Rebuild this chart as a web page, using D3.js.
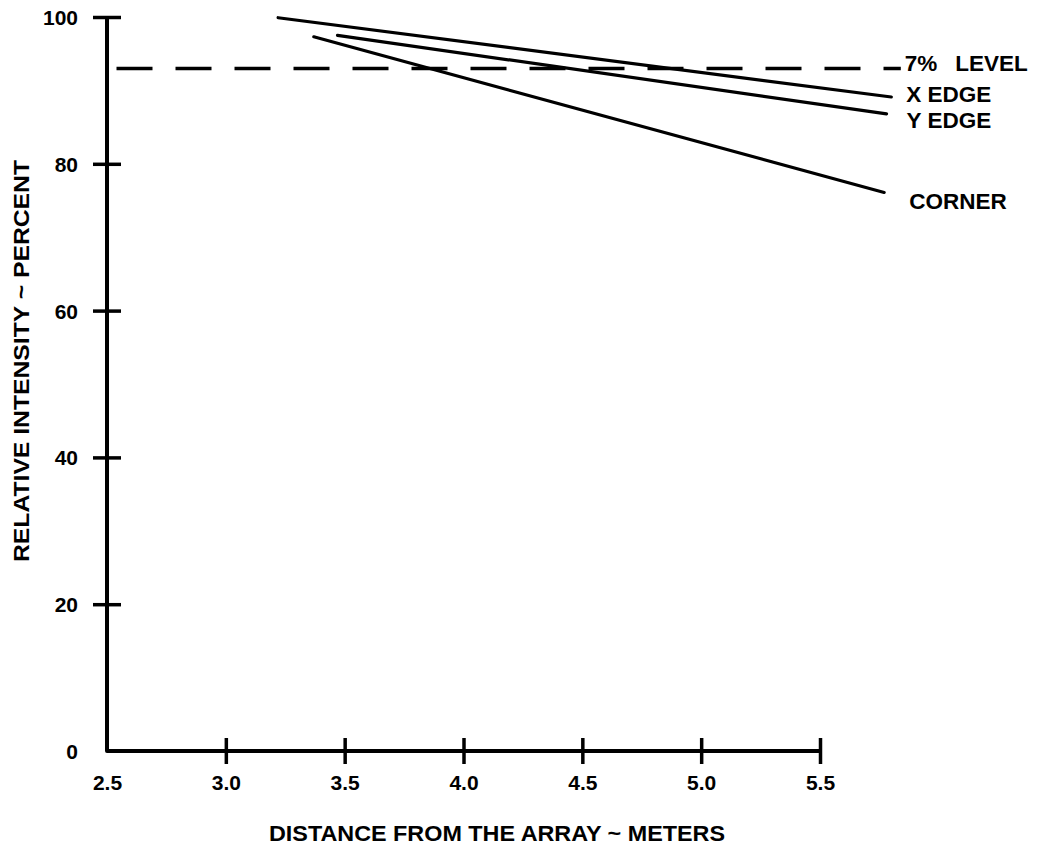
<!DOCTYPE html>
<html>
<head>
<meta charset="utf-8">
<script src="https://cdn.jsdelivr.net/npm/d3@7/dist/d3.min.js"></script>
<style>
  html, body { margin: 0; padding: 0; background: #fff; }
  svg { display: block; }
  text { font-family: "Liberation Sans", Arial, Helvetica, sans-serif; font-weight: bold; fill: #000; }
</style>
</head>
<body>
<svg id="chart" width="1044" height="846"></svg>
<script>
// ---- data ----
const xTicks = [2.5, 3.0, 3.5, 4.0, 4.5, 5.0, 5.5];
const xTickLabels = ["2.5", "3.0", "3.5", "4.0", "4.5", "5.0", "5.5"];
const yTicks = [0, 20, 40, 60, 80, 100];
const yTickLabels = ["0", "20", "40", "60", "80", "100"];

const xEdgeX = [3.22, 5.80];
const xEdgeY = [99.9, 89.1];
const yEdgeX = [3.47, 5.78];
const yEdgeY = [97.5, 86.8];
const cornerX = [3.37, 5.77];
const cornerY = [97.3, 76.1];
const levelX = [2.54, 5.84];
const levelY = [93, 93];

const seriesNames = ["X EDGE", "Y EDGE", "CORNER"];
const xTitle = "DISTANCE FROM THE ARRAY ~ METERS";
const yTitle = "RELATIVE INTENSITY ~ PERCENT";

// ---- layout ----
const svg = d3.select("#chart");
const x = d3.scaleLinear().domain([2.5, 5.5]).range([107, 820]);
const y = d3.scaleLinear().domain([0, 100]).range([751, 17]);

// axes frame (L shape)
svg.append("path")
  .attr("d", d3.line()([[x(2.5), y(100)], [x(2.5), y(0)], [x(5.5), y(0)]]))
  .attr("fill", "none").attr("stroke", "#000").attr("stroke-width", 4)
  .attr("stroke-linejoin", "round");

// x axis
const xAxis = svg.append("g").attr("transform", `translate(0,${y(0)})`)
  .call(d3.axisBottom(x).tickValues(xTicks).tickFormat((d, i) => xTickLabels[i]).tickSize(0).tickPadding(0));
xAxis.select(".domain").remove();
xAxis.selectAll(".tick line")
  .attr("y1", d => d === 2.5 ? 0 : -13).attr("y2", d => d === 2.5 ? 0 : 13)
  .attr("stroke", "#000").attr("stroke-width", 3.5);
xAxis.selectAll(".tick text")
  .attr("y", 39).attr("dy", null)
  .style("font-size", "21px").style("font-family", "'Liberation Sans', Arial, sans-serif")
  .style("font-weight", "bold").attr("fill", "#000");

// y axis
const yAxis = svg.append("g").attr("transform", `translate(${x(2.5)},0)`)
  .call(d3.axisLeft(y).tickValues(yTicks).tickFormat((d, i) => yTickLabels[i]).tickSize(0).tickPadding(0));
yAxis.select(".domain").remove();
yAxis.selectAll(".tick line")
  .attr("x1", d => d === 0 ? 0 : -14).attr("x2", d => d === 0 ? 0 : 14)
  .attr("stroke", "#000").attr("stroke-width", 3.5);
yAxis.selectAll(".tick text")
  .attr("x", -29).attr("dy", "0.36em")
  .style("font-size", "21px").style("font-family", "'Liberation Sans', Arial, sans-serif")
  .style("font-weight", "bold").attr("fill", "#000");

// lines
const line = d3.line().x(d => x(d[0])).y(d => y(d[1]));
const series = [
  d3.zip(xEdgeX, xEdgeY),
  d3.zip(yEdgeX, yEdgeY),
  d3.zip(cornerX, cornerY)
];
svg.selectAll("path.series").data(series).enter().append("path")
  .attr("class", "series")
  .attr("d", line)
  .attr("fill", "none").attr("stroke", "#000").attr("stroke-width", 3.2)
  .attr("stroke-linecap", "round");

// 7% level dashed line
svg.append("path")
  .attr("d", line(d3.zip(levelX, levelY)))
  .attr("fill", "none").attr("stroke", "#000").attr("stroke-width", 3.5)
  .attr("stroke-dasharray", "36,23");

// series labels
const labelPos = [
  [x(xEdgeX[1]) + 15, y(xEdgeY[1]) + 5],
  [x(yEdgeX[1]) + 20, y(yEdgeY[1]) + 14],
  [x(cornerX[1]) + 25, y(cornerY[1]) + 17]
];
svg.selectAll("text.series-label").data(seriesNames).enter().append("text")
  .attr("class", "series-label")
  .attr("x", (d, i) => labelPos[i][0])
  .attr("y", (d, i) => labelPos[i][1])
  .style("font-size", "22.5px")
  .text(d => d);

const lvl = svg.append("text")
  .attr("x", x(levelX[1]) + 4).attr("y", y(levelY[1]) + 3)
  .style("font-size", "22.5px");
lvl.append("tspan").text("7%");
lvl.append("tspan").attr("dx", 18).text("LEVEL");

// axis titles
svg.append("text")
  .attr("x", 497).attr("y", 841)
  .attr("text-anchor", "middle")
  .style("font-size", "22px")
  .attr("textLength", 456).attr("lengthAdjust", "spacingAndGlyphs")
  .text(xTitle);

svg.append("text")
  .attr("transform", "translate(29,361) rotate(-90)")
  .attr("text-anchor", "middle")
  .style("font-size", "22px")
  .attr("textLength", 402).attr("lengthAdjust", "spacingAndGlyphs")
  .text(yTitle);
</script>
</body>
</html>
